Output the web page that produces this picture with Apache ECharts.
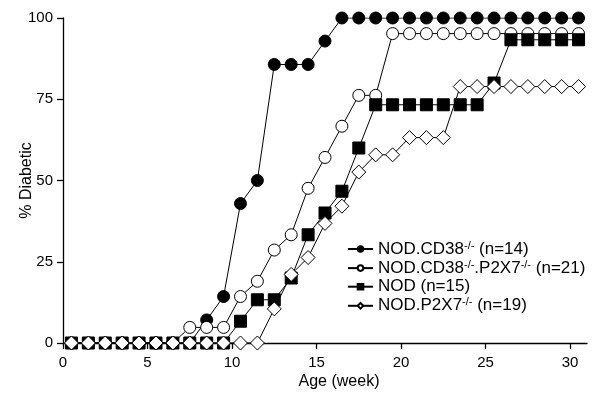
<!DOCTYPE html>
<html><head><meta charset="utf-8">
<script src="https://cdn.jsdelivr.net/npm/echarts@6/dist/echarts.min.js"></script>
<style>html,body{margin:0;padding:0;background:#fff}#c{width:597px;height:393px}</style>
</head><body><div id="c"></div>
<script>
const weeks = [0.5,1.5,2.5,3.5,4.5,5.5,6.5,7.5,8.5,9.5,10.5,11.5,12.5,13.5,14.5,15.5,16.5,17.5,18.5,19.5,20.5,21.5,22.5,23.5,24.5,25.5,26.5,27.5,28.5,29.5,30.5];
const cd38 = [0,0,0,0,0,0,0,0,7.1,14.3,42.9,50,85.7,85.7,85.7,92.9,100,100,100,100,100,100,100,100,100,100,100,100,100,100,100];
const cd38p2x7 = [0,0,0,0,0,0,0,4.8,4.8,4.8,14.3,19.0,28.6,33.3,47.6,57.1,66.7,76.2,76.2,95.2,95.2,95.2,95.2,95.2,95.2,95.2,95.2,95.2,95.2,95.2,95.2];
const nod = [0,0,0,0,0,0,0,0,0,0,6.7,13.3,13.3,20,33.3,40,46.7,60,73.3,73.3,73.3,73.3,73.3,73.3,73.3,80,93.3,93.3,93.3,93.3,93.3];
const p2x7 = [0,0,0,0,0,0,0,0,0,0,0,0,10.5,21.1,26.3,36.8,42.1,52.6,57.9,57.9,63.2,63.2,63.2,78.9,78.9,78.9,78.9,78.9,78.9,78.9,78.9];
const xTicks = [0,5,10,15,20,25,30];
const yTicks = [0,25,50,75,100];
const seriesNames = ['CD38','CD38P2X7','NOD','P2X7'];
const legendLabels = {
  'CD38': '{t|NOD.CD38}{s|-/-}{t| (n=14)}',
  'CD38P2X7': '{t|NOD.CD38}{s|-/-}{t|.P2X7}{s|-/-}{t| (n=21)}',
  'NOD': '{t|NOD (n=15)}',
  'P2X7': '{t|NOD.P2X7}{s|-/-}{t| (n=19)}'
};
const FONT = 'Liberation Sans, Arial, sans-serif';
const pair = arr => weeks.map((w,i)=>[w, arr[i]]);
const base = (name, data, symbol, size, fill) => ({
  name, type:'line', data: pair(data), symbol, symbolSize: size,
  showSymbol: true, animation:false,
  lineStyle:{color:'#000', width:1},
  itemStyle:{color: fill, borderColor:'#000', borderWidth:1},
  emphasis:{disabled:true}
});
const chart = echarts.init(document.getElementById('c'), null, {renderer:'canvas'});
chart.setOption({
  animation:false,
  backgroundColor:'#fff',
  grid:{left:63, right:10, top:18, bottom:50, containLabel:false, outerBoundsMode:'none'},
  legend:{
    orient:'vertical', left:347, top:240, padding:0, itemWidth:25, itemHeight:7, itemGap:1.6,
    data: seriesNames,
    formatter: n => legendLabels[n],
    textStyle:{color:'#000', fontFamily:FONT, rich:{
      t:{fontSize:17, fontFamily:FONT, color:'#000', lineHeight:18},
      s:{fontSize:11, fontFamily:FONT, color:'#000', verticalAlign:'top', lineHeight:18}
    }}
  },
  xAxis:{
    type:'value', min:0, max:31,
    name:'Age (week)', nameLocation:'middle', nameGap:31, nameMoveOverlap:false,
    nameTextStyle:{color:'#000', fontSize:16, fontFamily:FONT, padding:[0,0,0,28]},
    axisLine:{show:true, onZero:false, lineStyle:{color:'#000', width:1.3}},
    axisTick:{show:true, length:6, customValues:xTicks, lineStyle:{color:'#000', width:1.3}},
    axisLabel:{color:'#000', fontSize:15, fontFamily:FONT, margin:12, customValues:xTicks},
    splitLine:{show:false}
  },
  yAxis:{
    type:'value', min:0, max:100, interval:25,
    name:'% Diabetic', nameLocation:'middle', nameGap:28, nameMoveOverlap:false,
    nameTextStyle:{color:'#000', fontSize:16, fontFamily:FONT},
    axisLine:{show:true, lineStyle:{color:'#000', width:1.3}},
    axisTick:{show:true, length:6, customValues:yTicks, lineStyle:{color:'#000', width:1.3}},
    axisLabel:{color:'#000', fontSize:15, fontFamily:FONT, margin:10, customValues:yTicks},
    splitLine:{show:false}
  },
  series:[
    base('CD38', cd38, 'circle', 12, '#000'),
    base('CD38P2X7', cd38p2x7, 'circle', 12, '#fff'),
    base('NOD', nod, 'rect', 12, '#000'),
    base('P2X7', p2x7, 'diamond', 14, '#fff')
  ]
});
</script></body></html>
